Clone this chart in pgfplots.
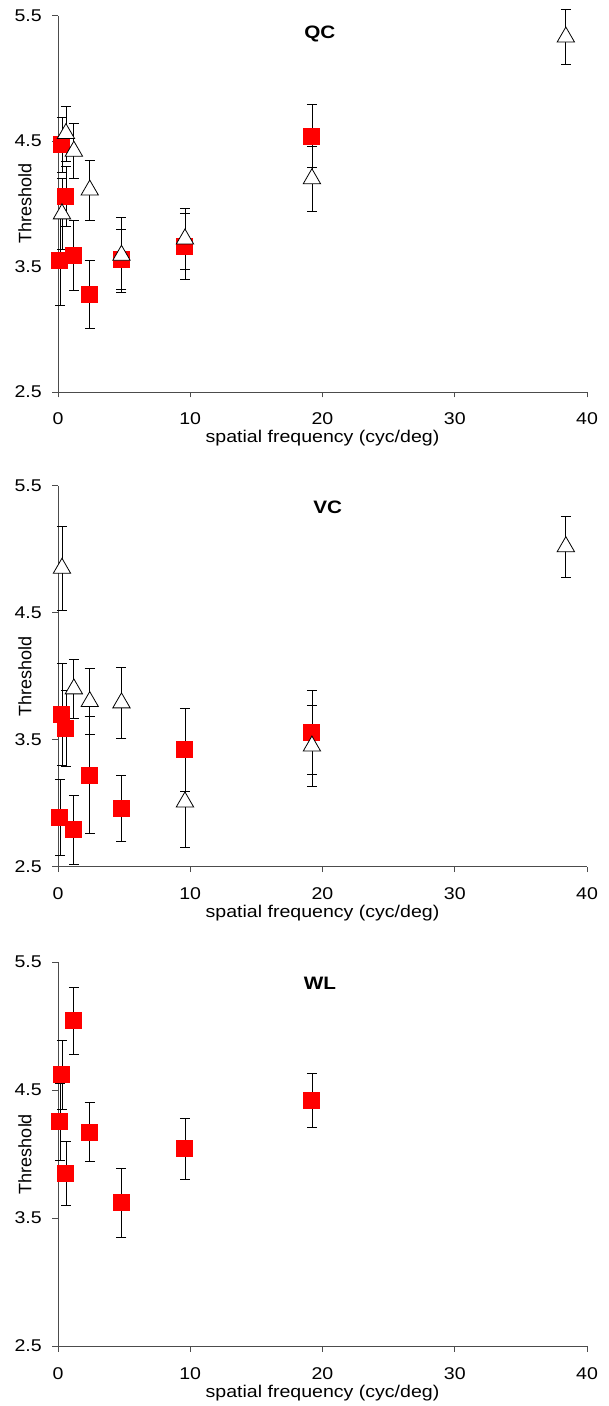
\documentclass[border=0pt]{standalone}
\usepackage{fontspec}
\setmainfont{Liberation Sans}[FakeStretch=1.15]
\newfontfamily\plainfont{Liberation Sans}
\usepackage{pgfplots}
\pgfplotsset{compat=1.18}
\usepackage{pgfplotstable}

\pgfplotstableread{
x y e
0.15 3.55 0.36
0.3 4.47 0.22
0.6 4.06 0.24
1.2 3.59 0.28
2.4 3.28 0.27
4.8 3.56 0.24
9.6 3.66 0.26
19.2 4.54 0.25
}\qcred
\pgfplotstableread{
x y e
0.3 3.92 0.28
0.6 4.56 0.22
1.2 4.42 0.22
2.4 4.11 0.24
4.8 3.59 0.30
9.6 3.72 0.24
19.2 4.20 0.26
38.4 5.33 0.22
}\qctri
\pgfplotstableread{
x y e
0.15 2.89 0.30
0.3 3.70 0.40
0.6 3.59 0.30
1.2 2.79 0.27
2.4 3.22 0.46
4.8 2.96 0.26
9.6 3.42 0.33
19.2 3.56 0.33
}\vcred
\pgfplotstableread{
x y e
0.3 4.85 0.33
1.2 3.90 0.23
2.4 3.80 0.26
4.8 3.79 0.28
9.6 3.01 0.36
19.2 3.45 0.32
38.4 5.02 0.24
}\vctri
\pgfplotstableread{
x y e
0.15 4.25 0.30
0.3 4.62 0.27
0.6 3.85 0.25
1.2 5.04 0.26
2.4 4.17 0.23
4.8 3.62 0.27
9.6 4.04 0.24
19.2 4.42 0.21
}\wlred

\pgfplotsset{
  panel/.style={
    scale only axis, width=529pt,
    xmin=0, xmax=40, ymin=2.5, ymax=5.5,
    axis x line*=bottom, axis y line*=left,
    axis line style={-, black!70, line width=0.8pt},
    tick align=outside, major tick length=5.5pt,
    tick style={black!70, line width=0.8pt},
    xtick={0,10,20,30,40}, ytick={2.5,3.5,4.5,5.5},
    /pgf/number format/assume math mode=true,
    yticklabel style={/pgf/number format/fixed, /pgf/number format/fixed zerofill, /pgf/number format/precision=1},
    tick label style={font=\fontsize{17}{20}\selectfont},
    xticklabel style={inner sep=0pt, anchor=base, yshift=-27.5pt},
    yticklabel style={inner sep=0pt, anchor=east, xshift=-10.5pt},
    xlabel={spatial frequency (cyc/deg)},
    ylabel={\plainfont Threshold},
    xlabel style={font=\fontsize{17}{20}\selectfont, at={(axis description cs:0.5,0)}, anchor=base, yshift=-51pt},
    ylabel style={font=\fontsize{18}{20}\selectfont, at={(axis description cs:-0.0624,0.5)}, anchor=center},
    clip=false,
  },
  redpts/.style={only marks, mark=square*, mark size=8pt, color=red,
    mark options={fill=red, draw=red, line width=0pt},
    error bars/.cd, y dir=both, y explicit,
    error bar style={black, line width=0.8pt},
    error mark options={black, rotate=90, mark size=5pt, line width=0.8pt}},
  tripts/.style={only marks, mark=triangle*, mark size=10pt, color=black,
    mark options={fill=white, draw=black, line width=0.8pt},
    error bars/.cd, y dir=both, y explicit,
    error bar style={black, line width=0.8pt},
    error mark options={black, rotate=90, mark size=5pt, line width=0.8pt}},
}

\begin{document}
\begin{tikzpicture}
\path[use as bounding box] (0,0) rectangle (608pt,1406pt);

\begin{axis}[panel, height=376.3pt, at={(58pt,1014pt)}, anchor=south west]
\addplot[redpts] table[x=x, y=y, y error=e] {\qcred};
\addplot[tripts] table[x=x, y=y, y error=e] {\qctri};
\node[font=\fontsize{18}{20}\selectfont\bfseries] at (axis cs:19.8,5.354) {QC};
\end{axis}

\begin{axis}[panel, height=381pt, at={(58pt,539.3pt)}, anchor=south west]
\addplot[redpts] table[x=x, y=y, y error=e] {\vcred};
\addplot[tripts] table[x=x, y=y, y error=e] {\vctri};
\node[font=\fontsize{18}{20}\selectfont\bfseries] at (axis cs:20.4,5.332) {VC};
\end{axis}

\begin{axis}[panel, height=384pt, at={(58pt,60pt)}, anchor=south west]
\addplot[redpts] table[x=x, y=y, y error=e] {\wlred};
\node[font=\fontsize{18}{20}\selectfont\bfseries] at (axis cs:19.8,5.336) {WL};
\end{axis}
\end{tikzpicture}
\end{document}
